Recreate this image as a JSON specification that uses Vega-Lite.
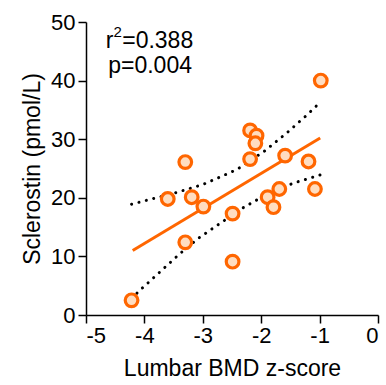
{
  "$schema": "https://vega.github.io/schema/vega-lite/v6.json",
  "width": 292,
  "height": 293,
  "autosize": "none",
  "padding": {"left": 86, "top": 22, "right": 8, "bottom": 70},
  "background": "white",
  "config": {
    "view": {"stroke": null},
    "font": "Liberation Sans",
    "axis": {
      "grid": false,
      "domainColor": "black",
      "domainWidth": 1.5,
      "tickColor": "black",
      "tickWidth": 1.5,
      "tickSize": 8,
      "labelColor": "black",
      "labelFont": "Liberation Sans",
      "labelFontSize": 22,
      "titleFont": "Liberation Sans",
      "titleFontSize": 23,
      "titleFontWeight": "normal",
      "titleColor": "black"
    }
  },
  "datasets": {
    "pts": [
      {"x": -4.22, "y": 2.5},
      {"x": -3.60, "y": 19.8},
      {"x": -3.30, "y": 26.1},
      {"x": -3.30, "y": 12.4},
      {"x": -3.19, "y": 20.1},
      {"x": -2.99, "y": 18.5},
      {"x": -2.49, "y": 17.3},
      {"x": -2.49, "y": 9.1},
      {"x": -2.19, "y": 31.5},
      {"x": -2.08, "y": 30.6},
      {"x": -2.10, "y": 29.3},
      {"x": -2.19, "y": 26.6},
      {"x": -1.89, "y": 20.1},
      {"x": -1.79, "y": 18.4},
      {"x": -1.69, "y": 21.5},
      {"x": -1.59, "y": 27.2},
      {"x": -1.19, "y": 26.2},
      {"x": -1.08, "y": 21.5},
      {"x": -0.98, "y": 40.0}
    ],
    "fit": [
      {"x": -4.20, "y": 11.0},
      {"x": -0.99, "y": 30.2}
    ],
    "band": [
      {"b": "upper", "x": -4.22, "y": 18.9},
      {"b": "upper", "x": -3.45, "y": 20.9},
      {"b": "upper", "x": -2.99, "y": 22.3},
      {"b": "upper", "x": -2.42, "y": 24.8},
      {"b": "upper", "x": -1.94, "y": 28.0},
      {"b": "upper", "x": -1.57, "y": 31.0},
      {"b": "upper", "x": -1.23, "y": 34.0},
      {"b": "upper", "x": -0.99, "y": 36.3},
      {"b": "lower", "x": -4.22, "y": 2.8},
      {"b": "lower", "x": -4.09, "y": 4.1},
      {"b": "lower", "x": -3.75, "y": 7.2},
      {"b": "lower", "x": -3.40, "y": 10.4},
      {"b": "lower", "x": -3.06, "y": 13.2},
      {"b": "lower", "x": -2.71, "y": 15.6},
      {"b": "lower", "x": -2.31, "y": 18.3},
      {"b": "lower", "x": -1.94, "y": 20.4},
      {"b": "lower", "x": -1.45, "y": 22.5},
      {"b": "lower", "x": -0.99, "y": 23.9}
    ],
    "notes": [
      {"x": -4.38, "y": 45.5, "t": "=0.388"},
      {"x": -4.62, "y": 41.3, "t": "p=0.004"}
    ],
    "notesR": [
      {"x": -4.53, "y": 45.5, "t": "r"}
    ],
    "notesSup": [
      {"x": -4.53, "y": 47.4, "t": "2"}
    ]
  },
  "encoding": {
    "x": {
      "field": "x",
      "type": "quantitative",
      "scale": {"domain": [-5, 0], "nice": false, "zero": false},
      "axis": {"values": [-5, -4, -3, -2, -1, 0], "labelExpr": "toString(datum.value)", "title": "Lumbar BMD z-score", "labelPadding": 2, "titlePadding": 11}
    },
    "y": {
      "field": "y",
      "type": "quantitative",
      "scale": {"domain": [0, 50], "nice": false},
      "axis": {"values": [0, 10, 20, 30, 40, 50], "title": "Sclerostin (pmol/L)", "labelPadding": 3, "titlePadding": 6}
    }
  },
  "layer": [
    {
      "data": {"name": "band"},
      "mark": {"type": "line", "color": "black", "strokeWidth": 3, "strokeDash": [0.1, 7.5], "strokeCap": "round"},
      "encoding": {"detail": {"field": "b"}}
    },
    {
      "data": {"name": "fit"},
      "mark": {"type": "line", "color": "#FF6600", "strokeWidth": 3},
      "encoding": {}
    },
    {
      "data": {"name": "pts"},
      "mark": {"type": "point", "shape": "circle", "filled": false, "fill": "#FFDDC0", "fillOpacity": 1, "stroke": "#FF6600", "strokeWidth": 3.2, "opacity": 1, "size": 160},
      "encoding": {}
    },
    {
      "data": {"name": "notes"},
      "mark": {"type": "text", "fontSize": 23, "font": "Liberation Sans", "color": "black", "align": "left", "baseline": "alphabetic"},
      "encoding": {"text": {"field": "t"}}
    },
    {
      "data": {"name": "notesR"},
      "mark": {"type": "text", "fontSize": 23, "font": "Liberation Sans", "color": "black", "align": "right", "baseline": "alphabetic"},
      "encoding": {"text": {"field": "t"}}
    },
    {
      "data": {"name": "notesSup"},
      "mark": {"type": "text", "fontSize": 15, "font": "Liberation Sans", "color": "black", "align": "left", "baseline": "alphabetic"},
      "encoding": {"text": {"field": "t"}}
    }
  ]
}
